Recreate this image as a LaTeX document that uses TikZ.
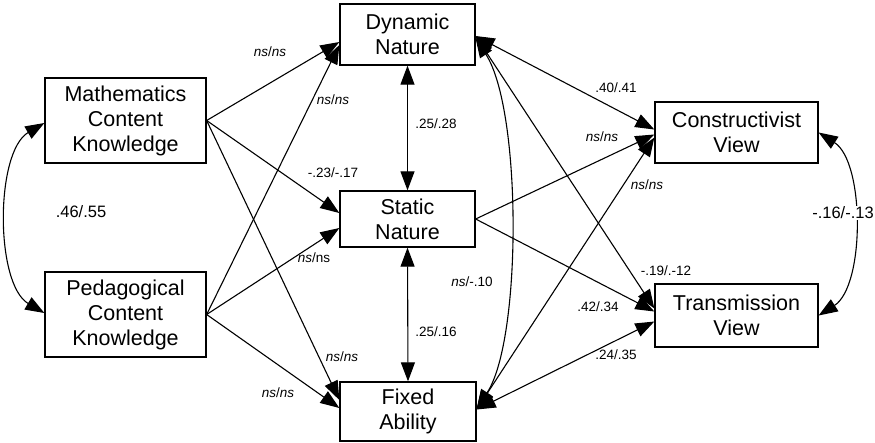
\documentclass[tikz,border=0pt]{standalone}
\usepackage{fontspec}
\setmainfont{Liberation Sans}
\usetikzlibrary{arrows.meta}
\begin{document}
\begin{tikzpicture}[x=1pt,y=-1pt,
  box/.style={draw, line width=1.3pt, align=center, inner sep=0pt,
    font=\fontsize{21.5}{25}\selectfont},
  lbl/.style={font=\fontsize{13.5}{15}\selectfont, inner sep=1pt},
  biglbl/.style={font=\fontsize{16.5}{18}\selectfont, inner sep=1pt},
  tip/.tip={Triangle[length=19pt,width=14pt]},
  conn/.style={line width=1.1pt, -tip},
  twoway/.style={line width=1.1pt, tip-tip},
]
\useasboundingbox (0,0) rectangle (875,442);

% variables
\node[box, minimum width=161pt, minimum height=85pt] (mck) at (125.5,120.5) {Mathematics\\Content\\Knowledge};
\node[box, minimum width=161pt, minimum height=85pt] (pck) at (125.5,314.5) {Pedagogical\\Content\\Knowledge};
\node[box, minimum width=135pt, minimum height=61pt] (dyn) at (407.5,34.5) {Dynamic\\Nature};
\node[box, minimum width=135pt, minimum height=56pt] (stat) at (407.5,219) {Static\\Nature};
\node[box, minimum width=136pt, minimum height=59pt] (fix) at (408,411.5) {Fixed\\Ability};
\node[box, minimum width=163pt, minimum height=61pt] (con) at (736.5,132.5) {Constructivist\\View};
\node[box, minimum width=163pt, minimum height=63pt] (tra) at (736.5,315.5) {Transmission\\View};

% knowledge -> beliefs
\draw[conn] (mck.east) -- ([yshift=-7.5pt]dyn.west);
\draw[conn] (mck.east) -- ([yshift=6pt]stat.west);
\draw[conn] (mck.east) -- ([yshift=11.5pt]fix.west);
\draw[conn] (pck.east) -- ([yshift=-10.5pt]dyn.west);
\draw[conn] (pck.east) -- ([yshift=-9pt]stat.west);
\draw[conn] (pck.east) -- ([yshift=3.5pt]fix.west);

% correlations among beliefs
\draw[twoway] (dyn.south) -- (stat.north);
\draw[twoway] (stat.south) -- (fix.north);
\draw[twoway] ([yshift=-4pt]dyn.east) .. controls (522,110) and (522,340) .. ([yshift=3pt]fix.east);

% beliefs and views
\draw[twoway] ([yshift=-1.5pt]dyn.east) -- ([yshift=3pt]con.west);
\draw[twoway] ([yshift=-1.5pt]dyn.east) -- ([yshift=7pt]tra.west);
\draw[conn] (stat.east) -- ([yshift=-2pt]con.west);
\draw[conn] (stat.east) -- ([yshift=4pt]tra.west);
\draw[twoway] ([yshift=2pt]fix.east) -- ([yshift=-5pt]con.west);
\draw[twoway] ([yshift=2pt]fix.east) -- ([yshift=-6pt]tra.west);

% curved correlations
\draw[twoway] ([yshift=-2.5pt]mck.west) .. controls (-5,152) and (-5,284) .. ([yshift=1.5pt]pck.west);
\draw[twoway] (con.east) .. controls (865,162) and (865,286) .. (tra.east);

% coefficients
\node[lbl] (l1) at (270,52) {\textit{ns}/\textit{ns}};
\node[lbl] (l2) at (333,100) {\textit{ns}/\textit{ns}};
\node[lbl] (l3) at (436,124) {.25/.28};
\node[lbl] (l4) at (333,173) {-.23/-.17};
\node[biglbl] (l5) at (81,212) {.46/.55};
\node[lbl] (l6) at (314,258) {\textit{ns}/ns};
\node[lbl] (l7) at (436,332) {.25/.16};
\node[lbl] (l8) at (342,357) {\textit{ns}/\textit{ns}};
\node[lbl] (l9) at (278,393) {\textit{ns}/\textit{ns}};
\node[lbl] (l10) at (472,282) {\textit{ns}/-.10};
\node[lbl] (l11) at (616,88) {.40/.41};
\node[lbl] (l12) at (602,137) {\textit{ns}/\textit{ns}};
\node[lbl] (l13) at (647,185) {\textit{ns}/\textit{ns}};
\node[biglbl, fill=white] (l14) at (843,213) {-.16/-.13};
\node[lbl] (l15) at (666,271) {-.19/.-12};
\node[lbl] (l16) at (598,307) {.42/.34};
\node[lbl] (l17) at (616,355) {.24/.35};
\end{tikzpicture}
\end{document}
